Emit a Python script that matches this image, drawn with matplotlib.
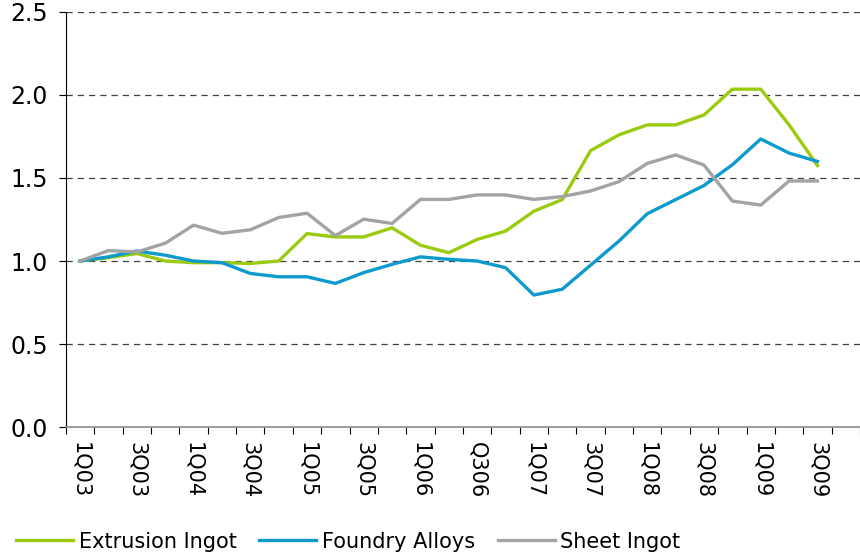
import matplotlib

matplotlib.use('Agg')
import matplotlib.pyplot as plt
import numpy as np

# quarterly index, 1Q03 = 1.0 (27 quarters, 1Q03 .. 3Q09)
extrusion_ingot = [1.00, 1.02, 1.045, 1.00, 0.99, 0.99, 0.985, 1.00, 1.165, 1.145,
                   1.145, 1.20, 1.095, 1.05, 1.13, 1.18, 1.30, 1.37, 1.665, 1.76,
                   1.82, 1.82, 1.88, 2.035, 2.035, 1.82, 1.575]
foundry_alloys = [1.00, 1.025, 1.06, 1.035, 1.00, 0.99, 0.925, 0.905, 0.905, 0.865,
                  0.93, 0.98, 1.025, 1.01, 1.00, 0.96, 0.795, 0.83, 0.975, 1.12,
                  1.285, 1.37, 1.455, 1.58, 1.735, 1.65, 1.60]
sheet_ingot = [1.00, 1.063, 1.054, 1.107, 1.216, 1.167, 1.188, 1.262, 1.288, 1.153,
               1.252, 1.226, 1.371, 1.371, 1.398, 1.398, 1.371, 1.388, 1.422, 1.478,
               1.588, 1.639, 1.578, 1.361, 1.337, 1.482, 1.482]
tick_labels = ['1Q03', '3Q03', '1Q04', '3Q04', '1Q05', '3Q05', '1Q06', 'Q306',
               '1Q07', '3Q07', '1Q08', '3Q08', '1Q09', '3Q09']

plt.rcParams['font.family'] = ['DejaVu Sans']

fig = plt.figure(figsize=(8.6, 5.55), dpi=100)
ax = fig.add_axes([0.0767, 0.2306, 0.9233, 0.7478])

x = np.arange(len(extrusion_ingot))
ax.plot(x, extrusion_ingot, color='#9BCB0F', lw=2.4, label='Extrusion Ingot')
ax.plot(x, foundry_alloys, color='#0E9ACD', lw=2.4, label='Foundry Alloys')
ax.plot(x, sheet_ingot, color='#A3A3A3', lw=2.4, label='Sheet Ingot')

ax.set_ylim(0, 2.5)
ax.set_xlim(-0.5, 27.26)
ax.set_yticks(np.arange(0, 2.51, 0.5))
ax.set_yticklabels([f'{v:.1f}' for v in np.arange(0, 2.51, 0.5)])
ax.tick_params(axis='y', length=5, width=0.8, labelsize=17, pad=8)
for v in np.arange(0.5, 2.51, 0.5):
    ax.axhline(v, color='#404040', lw=0.9, ls=(0, (5, 4)), zorder=0)

ax.set_xticks(np.arange(0, 27, 2))
ax.set_xticklabels(tick_labels, rotation=270, fontsize=15)
ax.set_xticks(np.arange(-0.5, 28, 1), minor=True)
ax.tick_params(axis='x', which='major', length=0, pad=11)
ax.tick_params(axis='x', which='minor', length=5, width=0.8)

for side in ['top', 'right']:
    ax.spines[side].set_visible(False)
ax.spines['left'].set_color('black')
ax.spines['bottom'].set_color('#8C8C8C')
ax.spines['bottom'].set_linewidth(1.2)

fig.legend(loc='lower left', bbox_to_anchor=(0.0093, -0.009), ncol=3, frameon=False,
           fontsize=15, handlelength=2.74, handletextpad=0.25, columnspacing=1.1,
           borderaxespad=0)

fig.savefig('out.png', dpi=100)
